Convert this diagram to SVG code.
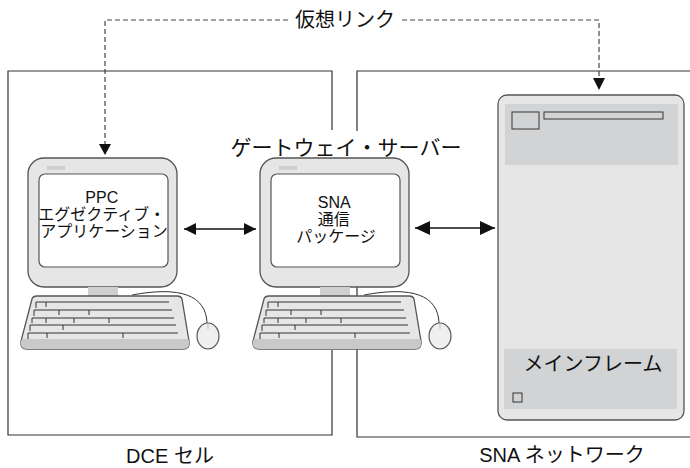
<svg xmlns="http://www.w3.org/2000/svg" width="690" height="468" viewBox="0 0 690 468">
  <defs>
    <style>
      .txt { font-family: 'Liberation Sans', 'Noto Sans CJK JP', sans-serif; fill: #111; }
      .box { fill: none; stroke: #333; stroke-width: 1.2; }
      .dash { fill: none; stroke: #444; stroke-width: 1.2; stroke-dasharray: 5 3; }
      .body { fill: #e6e6e6; stroke: #555; stroke-width: 1.3; }
      .screen { fill: #fff; stroke: #555; stroke-width: 1.2; }
      .panel { fill: #d2d3d5; }
      .keys { fill: none; stroke: #333; stroke-width: 1; }
      .link { fill: none; stroke: #111; stroke-width: 1.3; }
    </style>
    <marker id="head" viewBox="0 0 12 12" refX="12" refY="6" markerWidth="12" markerHeight="12" markerUnits="userSpaceOnUse" orient="auto-start-reverse">
      <path d="M0,0 L12,6 L0,12 Z" fill="#111"/>
    </marker>
    <marker id="bighead" viewBox="0 0 15 14" refX="15" refY="7" markerWidth="15" markerHeight="14" markerUnits="userSpaceOnUse" orient="auto-start-reverse">
      <path d="M0,0 L15,7 L0,14 Z" fill="#111"/>
    </marker>
    <!-- desktop computer: monitor, stand, keyboard, mouse -->
    <g id="pc">
      <rect class="body" x="28" y="158" width="149" height="129" rx="16"/>
      <rect x="47" y="166" width="18" height="4" fill="#cfcfcf"/>
      <rect class="screen" x="39" y="174" width="129" height="93" rx="6"/>
      <rect x="88" y="287" width="30" height="9" fill="#cfcfcf"/>
      <path d="M132,295 C180,286 206,295 207,323" fill="none" stroke="#333" stroke-width="1"/>
      <path class="body" d="M37,296 H177 Q181,296 182,299 L189,341 Q190,349 183,349 H27 Q20,349 21,341 L32,299 Q33,296 37,296 Z"/>
      <path d="M22,339 H188 L189,341 Q190,349 183,349 H27 Q20,349 21,341 Z" fill="#c9c9c9"/>
      <path class="keys" d="M36,308 V302 H169 M46,302 v5
        M34,316 V310 H172 M59,310 v5 M89,310 v5
        M32,323 V318 H174 M46,318 v5 M74,318 v5 M109,318 v5
        M30,331 V325 H176 M63,325 v5
        M28,339 V333 H178 M47,333 v5 M123,333 v5"/>
      <ellipse cx="208" cy="336" rx="11" ry="13" fill="#efefef" stroke="#555" stroke-width="1.2"/>
      <path d="M208,323 v6" stroke="#bbb" stroke-width="1"/>
    </g>
  </defs>

  <!-- network boundaries -->
  <g id="dce-cell">
    <path class="box" d="M332,130 V71 H8 V435 H332 V350"/>
    <text class="txt" x="170" y="463" font-size="20" text-anchor="middle">DCE セル</text>
  </g>
  <g id="sna-network">
    <path class="box" d="M690,71 H357 V437 H690"/>
    <text class="txt" x="562" y="462" font-size="20" text-anchor="middle">SNA ネットワーク</text>
  </g>

  <!-- workstation running the PPC application -->
  <g id="ppc-workstation">
    <use href="#pc"/>
    <text class="txt" font-size="16" text-anchor="middle">
      <tspan x="104" y="203">PPC</tspan>
      <tspan x="104" y="220">エグゼクティブ・</tspan>
      <tspan x="104" y="237">アプリケーション</tspan>
    </text>
  </g>

  <!-- gateway server -->
  <g id="gateway-server">
    <rect x="222" y="131" width="250" height="27" fill="#fff"/>
    <text class="txt" x="346" y="155" font-size="21" text-anchor="middle">ゲートウェイ・サーバー</text>
    <use href="#pc" transform="translate(232,0)"/>
    <text class="txt" font-size="16" text-anchor="middle">
      <tspan x="336" y="208">SNA</tspan>
      <tspan x="336" y="225">通信</tspan>
      <tspan x="336" y="242">パッケージ</tspan>
    </text>
  </g>

  <!-- host mainframe -->
  <g id="mainframe">
    <rect class="body" x="498" y="95" width="186" height="325" rx="9"/>
    <rect class="panel" x="505" y="104" width="173" height="61"/>
    <rect x="512" y="112" width="27" height="17" fill="#d2d3d5" stroke="#444" stroke-width="1.1"/>
    <rect x="544" y="112" width="119" height="7" fill="#d2d3d5" stroke="#444" stroke-width="1.1"/>
    <rect class="panel" x="504" y="349" width="173" height="60"/>
    <text class="txt" x="593" y="371" font-size="20" text-anchor="middle">メインフレーム</text>
    <rect x="513" y="393" width="9" height="9" fill="none" stroke="#333" stroke-width="1"/>
  </g>

  <!-- connectors -->
  <g id="connectors">
    <path class="dash" d="M288,20 H105 V145"/>
    <path d="M99,144 L111,144 L105,155 Z" fill="#111"/>
    <path class="dash" d="M402,20 H599 V79"/>
    <path d="M593,78 L605,78 L599,90 Z" fill="#111"/>
    <text class="txt" x="345" y="27" font-size="20" text-anchor="middle">仮想リンク</text>
    <path class="link" d="M184,229 H256" marker-start="url(#head)" marker-end="url(#head)"/>
    <path class="link" d="M415,228 H495" marker-start="url(#bighead)" marker-end="url(#bighead)"/>
  </g>
</svg>
